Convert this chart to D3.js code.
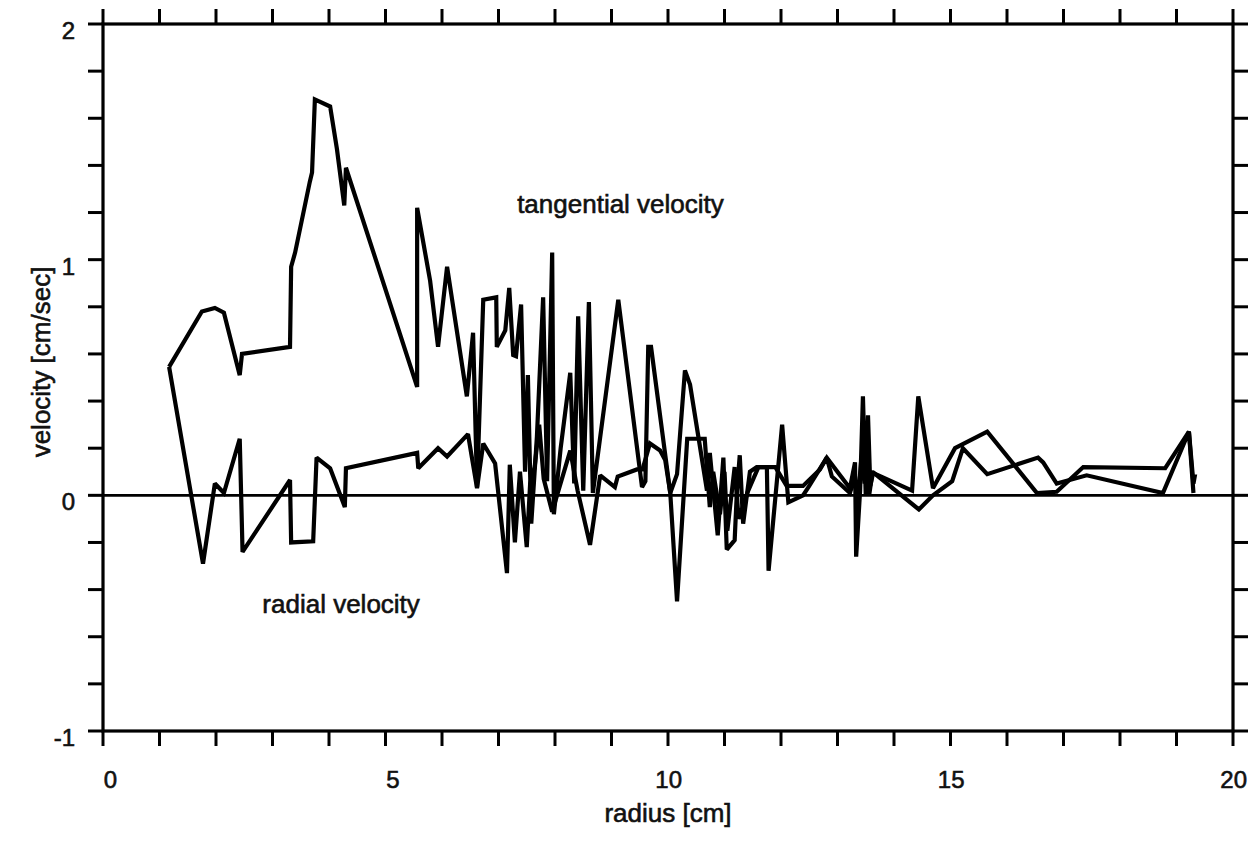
<!DOCTYPE html>
<html>
<head>
<meta charset="utf-8">
<script src="https://cdn.jsdelivr.net/npm/d3@7"></script>
<style>
  html, body { margin: 0; padding: 0; background: white; }
  text { font-family: "Liberation Sans", Arial, Helvetica, sans-serif; fill: #111; stroke: #111; stroke-width: 0.6px; }
</style>
</head>
<body>
<div id="chart"></div>
<script>
// ---------- data ----------
const tanRadius = [1.17, 1.75, 1.98, 2.14, 2.42, 2.46, 3.31, 3.33, 3.40, 3.66, 3.70, 3.75, 4.02, 4.14, 4.27, 4.30,
  5.56, 5.56, 5.79, 5.93, 6.09, 6.44, 6.55, 6.62, 6.73, 6.96, 6.97, 7.12, 7.19, 7.26, 7.31, 7.40,
  7.47, 7.52, 7.58, 7.68, 7.79, 7.86, 7.95, 7.98, 8.10, 8.27, 8.34, 8.41, 8.50, 8.60, 8.67, 9.12,
  9.54, 9.60, 9.65, 9.70, 10.04, 10.16, 10.30, 10.39, 10.69, 10.74, 10.88, 10.98, 11.04, 11.18,
  11.22, 11.27, 11.33, 11.45, 11.57, 11.75, 11.78, 12.02, 12.13, 12.39, 12.50, 12.81, 13.22, 13.31,
  13.33, 13.40, 13.45, 13.50, 13.54, 13.58, 13.63, 14.32, 14.43, 14.69, 15.08, 15.65, 16.53, 16.88,
  17.35, 18.80, 19.22, 19.30];
const tanVelocity = [0.545, 0.78, 0.795, 0.775, 0.51, 0.60, 0.63, 0.97, 1.03, 1.33, 1.37, 1.68, 1.65, 1.47, 1.23, 1.39,
  0.46, 1.22, 0.91, 0.63, 0.97, 0.42, 0.69, 0.035, 0.83, 0.84, 0.63, 0.70, 0.88, 0.595, 0.59, 0.81,
  0.10, 0.51, -0.12, 0.25, 0.84, 0.06, 1.03, -0.08, 0.20, 0.52, 0.05, 0.76, 0.02, 0.82, 0.01, 0.83,
  0.035, 0.06, 0.63, 0.63, 0.01, 0.09, 0.53, 0.47, 0.02, 0.18, -0.17, 0.16, -0.23, -0.19,
  0.02, 0.17, -0.12, 0.10, 0.12, 0.12, -0.32, 0.30, -0.03, 0.00, 0.04, 0.16, 0.03, 0.14,
  -0.26, 0.02, 0.42, 0.00, 0.34, 0.04, 0.095, 0.02, 0.42, 0.03, 0.20, 0.27, 0.01, 0.015,
  0.12, 0.115, 0.27, 0.01];

const radRadius = [1.17, 1.77, 1.98, 2.14, 2.42, 2.47, 3.31, 3.33, 3.72, 3.78, 4.02, 4.28, 4.30, 5.56, 5.58, 5.93,
  6.09, 6.46, 6.62, 6.73, 6.94, 7.15, 7.20, 7.29, 7.38, 7.50, 7.56, 7.64, 7.72, 7.80, 7.95, 8.27,
  8.40, 8.62, 8.80, 9.06, 9.11, 9.45, 9.55, 9.68, 9.86, 9.95, 10.04, 10.16, 10.34, 10.65, 10.74,
  10.80, 10.92, 11.00, 11.05, 11.18, 11.25, 11.42, 11.60, 11.90, 12.10, 12.39, 12.69, 12.81, 12.90,
  13.22, 13.31, 13.35, 13.42, 13.48, 13.52, 13.56, 13.62, 14.44, 14.69, 15.03, 15.22, 15.65, 16.55,
  16.64, 16.88, 17.41, 18.76, 19.22, 19.30, 19.33];
const radVelocity = [0.545, -0.29, 0.05, 0.01, 0.24, -0.24, 0.065, -0.20, -0.195, 0.16, 0.115, -0.05, 0.115, 0.18, 0.115, 0.20,
  0.165, 0.26, 0.03, 0.22, 0.135, -0.33, 0.13, -0.20, 0.10, -0.22, 0.05, 0.12, 0.30, 0.07, -0.07, 0.19,
  0.02, -0.21, 0.085, 0.035, 0.08, 0.11, 0.11, 0.22, 0.19, 0.15, 0.01, -0.45, 0.24, 0.24, -0.05,
  0.10, -0.08, 0.10, -0.15, 0.12, -0.10, 0.02, 0.12, 0.12, 0.04, 0.04, 0.11, 0.16, 0.08,
  0.01, 0.08, -0.05, 0.15, 0.05, 0.25, 0.00, 0.10, -0.06, 0.00, 0.06, 0.20, 0.09, 0.16,
  0.14, 0.05, 0.085, 0.01, 0.27, 0.05, 0.09];

const xTicks = d3.range(0, 21, 1);
const xTickLabels = [0, 5, 10, 15, 20];
const yTicks = d3.range(-1, 2.001, 0.2).map(v => Math.round(v * 10) / 10);
const yTickLabels = [-1, 0, 1, 2];

// ---------- SVG ----------
const width = 1260, height = 842;
const margin = { left: 103, right: 27, top: 24, bottom: 111 };

const svg = d3.select("#chart").append("svg")
  .attr("width", width)
  .attr("height", height)
  .style("background", "white");

const x = d3.scaleLinear().domain([0, 20]).range([margin.left, width - margin.right]);
const y = d3.scaleLinear().domain([-1, 2]).range([height - margin.bottom, margin.top]);

const tickLen = 15;
const tickFont = "24px";
const labelFont = "26px";

// zero line
svg.append("line")
  .attr("x1", x(0)).attr("x2", x(20))
  .attr("y1", y(0)).attr("y2", y(0))
  .attr("stroke", "#000").attr("stroke-width", 2.6);

// data lines
const line = d3.line().x(d => x(d[0])).y(d => y(d[1]));
const tanData = tanRadius.map((r, i) => [r, tanVelocity[i]]);
const radData = radRadius.map((r, i) => [r, radVelocity[i]]);

[tanData, radData].forEach(data => {
  svg.append("path")
    .datum(data)
    .attr("d", line)
    .attr("fill", "none")
    .attr("stroke", "#000")
    .attr("stroke-width", 4.2)
    .attr("stroke-linejoin", "miter")
    .attr("stroke-miterlimit", 2);
});

// frame
svg.append("rect")
  .attr("x", x(0)).attr("y", y(2))
  .attr("width", x(20) - x(0)).attr("height", y(-1) - y(2))
  .attr("fill", "none").attr("stroke", "#000").attr("stroke-width", 3.2);

// ticks (all outward)
const tickG = svg.append("g").attr("stroke", "#000").attr("stroke-width", 3);
xTicks.forEach(t => {
  tickG.append("line").attr("x1", x(t)).attr("x2", x(t)).attr("y1", y(-1)).attr("y2", y(-1) + tickLen);
  tickG.append("line").attr("x1", x(t)).attr("x2", x(t)).attr("y1", y(2)).attr("y2", y(2) - tickLen);
});
yTicks.forEach(t => {
  tickG.append("line").attr("x1", x(0)).attr("x2", x(0) - tickLen).attr("y1", y(t)).attr("y2", y(t));
  tickG.append("line").attr("x1", x(20)).attr("x2", x(20) + tickLen).attr("y1", y(t)).attr("y2", y(t));
});

// tick labels
svg.selectAll(".xlab")
  .data(xTickLabels)
  .join("text")
  .attr("x", d => x(d) + 14)
  .attr("y", y(-1) + 57)
  .attr("text-anchor", "end")
  .style("font-size", tickFont)
  .text(d => d);

svg.selectAll(".ylab")
  .data(yTickLabels)
  .join("text")
  .attr("x", x(0) - 28)
  .attr("y", d => y(d) + 15)
  .attr("text-anchor", "end")
  .style("font-size", tickFont)
  .text(d => d);

// axis titles
svg.append("text")
  .attr("x", x(10)).attr("y", 822)
  .attr("text-anchor", "middle")
  .style("font-size", labelFont)
  .text("radius [cm]");

svg.append("text")
  .attr("transform", `translate(50, 362) rotate(-90)`)
  .attr("text-anchor", "middle")
  .style("font-size", labelFont)
  .text("velocity [cm/sec]");

// curve annotations
svg.append("text")
  .attr("x", x(7.33)).attr("y", y(1.2))
  .style("font-size", labelFont)
  .text("tangential velocity");

svg.append("text")
  .attr("x", x(2.82)).attr("y", y(-0.5))
  .style("font-size", labelFont)
  .text("radial velocity");
</script>
</body>
</html>
